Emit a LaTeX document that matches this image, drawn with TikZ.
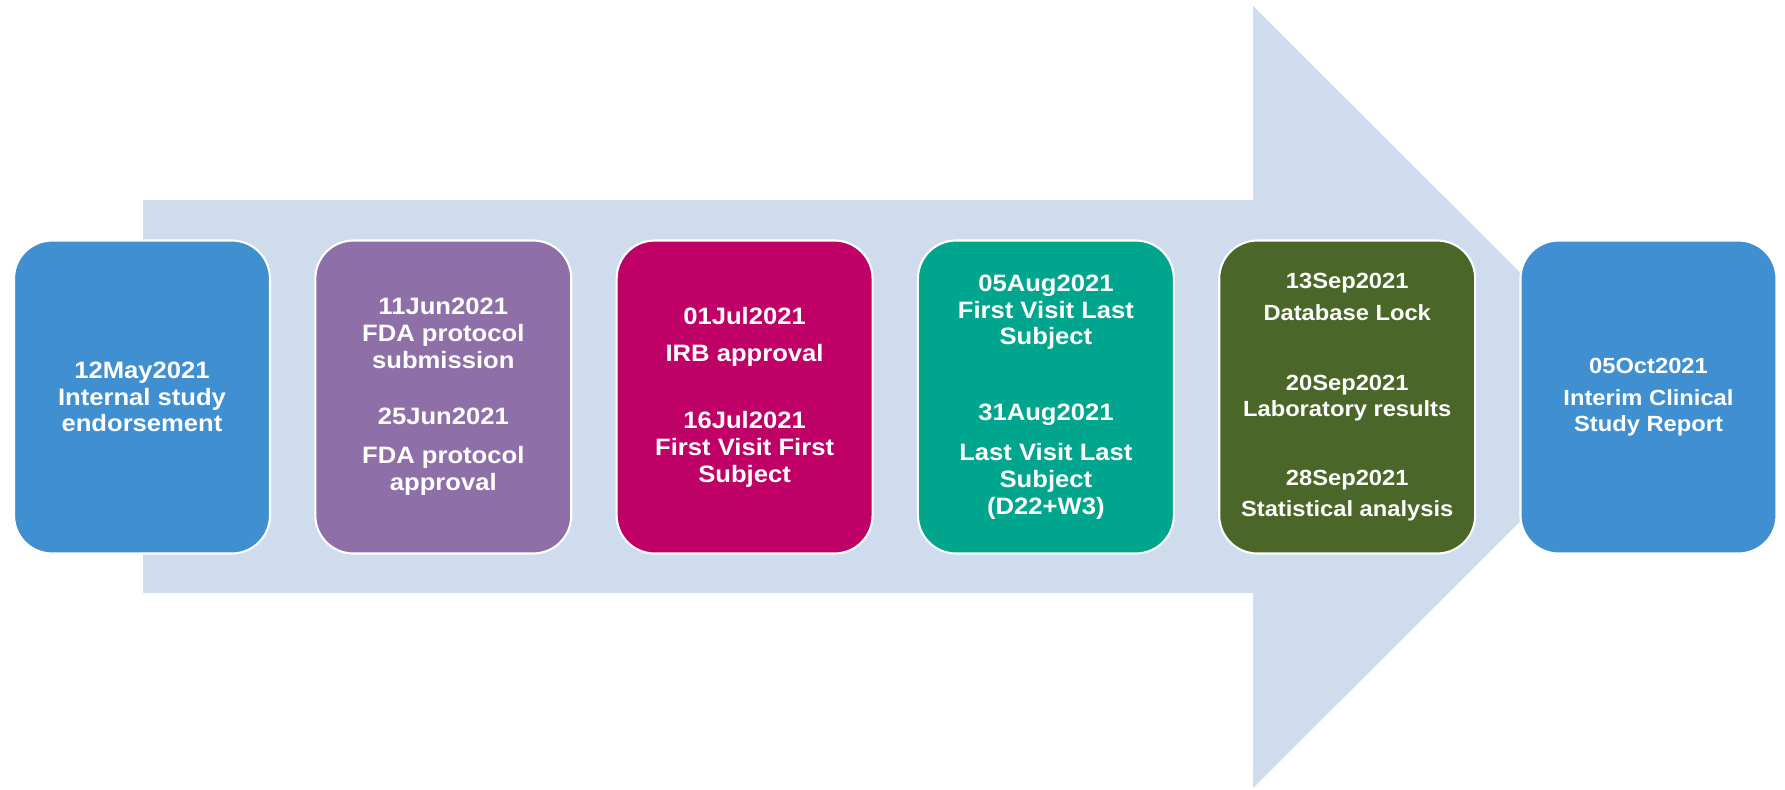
\documentclass[tikz,border=0pt]{standalone}
\usepackage{fontspec}
\setmainfont{Liberation Sans}[FakeStretch=1.08]
\usetikzlibrary{positioning}
\definecolor{arrowblue}{RGB}{207,220,238}
\definecolor{stepblue}{RGB}{64,143,209}
\definecolor{steppurple}{RGB}{143,111,168}
\definecolor{stepmagenta}{RGB}{190,0,103}
\definecolor{stepteal}{RGB}{0,165,142}
\definecolor{stepgreen}{RGB}{74,103,41}
\begin{document}
\begin{tikzpicture}[x=0.02cm, y=-0.02cm, line join=round,
		font=\bfseries\fontsize{13.5}{15.2}\selectfont]
	\tikzset{milestone/.style={rounded corners=0.76cm, draw=white, line width=1.2pt, text=white, align=center,
			minimum width=5.12cm, minimum height=6.26cm, inner sep=0pt},
		compact/.style={font=\bfseries\fontsize{12.5}{14.6}\selectfont}}
	\useasboundingbox (0,0) rectangle (1785,789);
	% big arrow behind the boxes
	\fill[arrowblue] (143,200)--(1253,200)--(1253,6)--(1645,397)--(1253,788)--(1253,593)--(143,593)--cycle;
	\node[milestone, fill=stepblue] (may) at (142,397) {12May2021\\Internal study\\endorsement};
	\node[milestone, fill=steppurple, right=0.865cm of may] (jun)
		{11Jun2021\\FDA protocol\\submission\\[17pt]25Jun2021\\[7pt]FDA protocol\\approval};
	\node[milestone, fill=stepmagenta, right=0.865cm of jun] (jul)
		{01Jul2021\\[6pt]IRB approval\\[23pt]16Jul2021\\First Visit First\\Subject};
	\node[milestone, fill=stepteal, right=0.865cm of jul] (aug)
		{05Aug2021\\First Visit Last\\Subject\\[28pt]31Aug2021\\[7.5pt]Last Visit Last\\Subject\\(D22+W3)};
	\node[milestone, compact, fill=stepgreen, right=0.865cm of aug] (sep)
		{13Sep2021\\[4pt]Database Lock\\[25pt]20Sep2021\\Laboratory results\\[25pt]28Sep2021\\[3pt]Statistical analysis};
	\node[milestone, compact, fill=stepblue, right=0.865cm of sep] (oct)
		{05Oct2021\\[4pt]Interim Clinical\\Study Report};
\end{tikzpicture}
\end{document}
